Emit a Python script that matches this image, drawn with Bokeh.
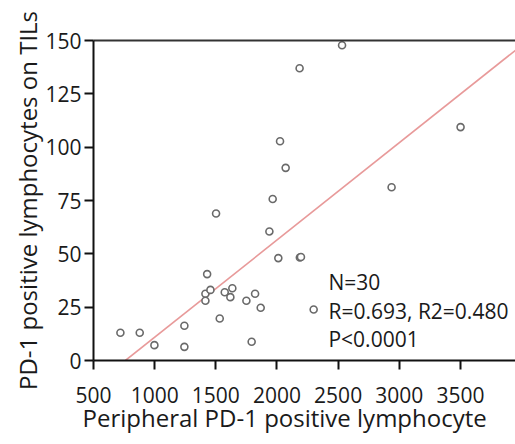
from bokeh.plotting import figure
from bokeh.models import LinearAxis, FixedTicker, Label, Range1d, Title
from bokeh.embed import file_html
from bokeh.resources import INLINE

# data
peripheral = [2532, 2185, 2025, 2071, 1965, 1502, 3501, 2937, 1938, 2011,
              2187, 2196, 1429, 1415, 1456, 1415, 1573, 1635, 1619, 1750,
              1821, 1867, 1532, 1793, 1243, 1243, 998, 720, 878, 2300]
tils = [147.8, 137.0, 102.8, 90.3, 75.7, 68.9, 109.4, 81.2, 60.5, 48.0,
        48.3, 48.5, 40.5, 31.3, 33.1, 28.0, 32.0, 33.9, 29.7, 28.0,
        31.3, 24.7, 19.7, 8.8, 16.3, 6.4, 7.2, 13.0, 13.0, 23.9]
fit_slope = 0.0456
fit_intercept = -34.7
x_ticks = [500, 1000, 1500, 2000, 2500, 3000, 3500]
y_ticks = [0, 25, 50, 75, 100, 125, 150]
stats_lines = ["N=30", "R=0.693, R2=0.480", "P<0.0001"]
stats_y = [36.6, 23.4, 10.3]
stats_x = 2421
x_title = "Peripheral PD-1 positive lymphocyte"
y_title = "PD-1 positive lymphocytes on TILs"

X0, X1 = 500, 3950
FONT = "Open Sans"
TXT = "#1a1a1a"

p = figure(width=515, height=444, output_backend="svg", toolbar_location=None,
           x_range=Range1d(X0, X1), y_range=Range1d(0, 150),
           min_border_left=93, min_border_right=0, min_border_top=40,
           min_border_bottom=84)
p.outline_line_color = None
p.grid.visible = False
p.background_fill_color = "white"
p.border_fill_color = "white"

for ax in (p.xaxis[0], p.yaxis[0]):
    ax.axis_line_color = "#111111"
    ax.axis_line_width = 2
    ax.major_tick_line_color = "#111111"
    ax.major_tick_line_width = 2
    ax.major_tick_out = 9
    ax.major_tick_in = 0
    ax.minor_tick_line_color = None
    ax.major_label_text_font = FONT
    ax.major_label_text_font_size = "21px"
    ax.major_label_text_color = TXT
    ax.axis_label_text_font = FONT
    ax.axis_label_text_font_size = "24px"
    ax.axis_label_text_font_style = "normal"
    ax.axis_label_text_color = TXT

p.xaxis[0].ticker = FixedTicker(ticks=x_ticks)
p.yaxis[0].ticker = FixedTicker(ticks=y_ticks)
p.xaxis[0].major_label_standoff = 17
p.yaxis[0].major_label_standoff = 3
p.yaxis[0].axis_label = y_title
p.yaxis[0].axis_label_standoff = -2

top = LinearAxis(ticker=FixedTicker(ticks=[]), major_label_text_font_size="0px",
                 axis_line_color="#333333", axis_line_width=2,
                 major_tick_line_color=None, minor_tick_line_color=None)
p.add_layout(top, "above")

p.add_layout(Title(text=x_title, align="left", offset=-11, standoff=-14,
                   text_font=FONT, text_font_size="24px",
                   text_font_style="normal", text_color=TXT), "below")

fx = [-fit_intercept / fit_slope, X1]
fy = [fit_slope * v + fit_intercept for v in fx]
p.line(fx, fy, line_color="#e89a9a", line_width=1.6)

p.scatter(peripheral, tils, size=7, marker="circle", line_color="#6a6a6a",
          line_width=1.6, fill_color="white")

for t, yy in zip(stats_lines, stats_y):
    p.add_layout(Label(x=stats_x, y=yy, text=t, text_font=FONT,
                       text_font_size="21px", text_color=TXT,
                       text_baseline="middle", text_align="left"))

open("out.html", "w").write(file_html(p, INLINE))
